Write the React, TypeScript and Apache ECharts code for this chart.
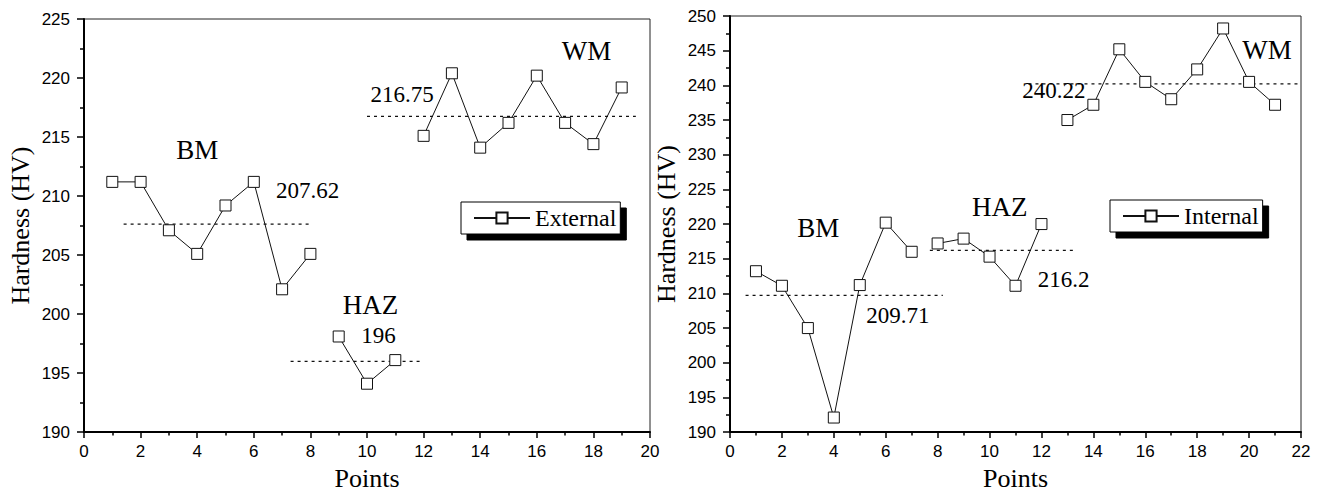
import React, { useEffect, useRef } from "react";
import * as echarts from "echarts";

// ---- External hardness profile ----
const extBmPoints = [1, 2, 3, 4, 5, 6, 7, 8];
const extBmHv = [211.2, 211.2, 207.1, 205.1, 209.2, 211.2, 202.1, 205.1];
const extHazPoints = [9, 10, 11];
const extHazHv = [198.1, 194.1, 196.1];
const extWmPoints = [12, 13, 14, 15, 16, 17, 18, 19];
const extWmHv = [215.1, 220.4, 214.1, 216.2, 220.2, 216.2, 214.4, 219.2];
// Zone averages (BM, HAZ, WM)
const extMeans = [207.62, 196, 216.75];

// ---- Internal hardness profile ----
const intBmPoints = [1, 2, 3, 4, 5, 6, 7];
const intBmHv = [213.2, 211.1, 205.0, 192.1, 211.2, 220.2, 216.0];
const intHazPoints = [8, 9, 10, 11, 12];
const intHazHv = [217.2, 217.9, 215.3, 211.1, 220.0];
const intWmPoints = [13, 14, 15, 16, 17, 18, 19, 20, 21];
const intWmHv = [235.0, 237.2, 245.2, 240.5, 238.0, 242.3, 248.2, 240.5, 237.2];
const intMeans = [209.71, 216.2, 240.22];

const zoneNames = ["BM", "HAZ", "WM"];

// Layout of the annotations (data coordinates), kept apart from the values
const extMeanSpans = [[1.4, 8.0], [7.3, 12.0], [10.0, 19.5]];
const extZoneLabelAt = [[4.0, 213.86], [10.12, 200.81], [17.76, 222.28]];
const extMeanLabelAt = [[7.9, 210.43], [10.41, 198.18], [11.24, 218.63]];

const intMeanSpans = [[0.6, 8.2], [7.7, 13.3], [11.5, 22]];
const intZoneLabelAt = [[3.4, 219.4], [10.39, 222.5], [20.69, 245.15]];
const intMeanLabelAt = [[6.47, 206.86], [12.85, 212.0], [12.48, 239.25]];

const SERIF = "'Liberation Serif', 'Times New Roman', serif";
const SANS = "'Liberation Sans', Arial, sans-serif";

function pairs(xs: number[], ys: number[]) {
  return xs.map((x, i) => [x, ys[i]]);
}

function profileSeries(
  name: string,
  axis: number,
  groups: [number[], number[]][],
  means: number[],
  spans: number[][],
  zoneAt: number[][],
  meanAt: number[][]
) {
  const out: any[] = [];
  groups.forEach(([xs, ys]) => {
    out.push({
      name,
      type: "line",
      xAxisIndex: axis,
      yAxisIndex: axis,
      data: pairs(xs, ys),
      symbol: "rect",
      symbolSize: 11,
      lineStyle: { color: "#111", width: 1 },
      itemStyle: { color: "#fff", borderColor: "#111", borderWidth: 1 },
      z: 3,
    });
  });
  means.forEach((m, i) => {
    out.push({
      name: zoneNames[i] + " mean",
      type: "line",
      xAxisIndex: axis,
      yAxisIndex: axis,
      data: [
        [spans[i][0], m],
        [spans[i][1], m],
      ],
      symbol: "none",
      lineStyle: { color: "#111", width: 1.2, type: [3, 4] },
      z: 2,
      silent: true,
    });
  });
  const labels: any[] = [];
  zoneNames.forEach((z, i) => {
    labels.push({
      value: zoneAt[i],
      label: { formatter: z, fontSize: 27 },
    });
  });
  means.forEach((m, i) => {
    labels.push({
      value: meanAt[i],
      label: { formatter: String(m), fontSize: 23 },
    });
  });
  out.push({
    name: "notes",
    type: "scatter",
    xAxisIndex: axis,
    yAxisIndex: axis,
    symbolSize: 0,
    itemStyle: { color: "#000" },
    silent: true,
    data: labels,
    label: {
      show: true,
      position: "inside",
      color: "#000",
      opacity: 1,
      textBorderWidth: 0,
      fontFamily: SERIF,
    },
    z: 5,
  });
  return out;
}

function xAxisFor(gridIndex: number, max: number) {
  return {
    type: "value",
    gridIndex,
    min: 0,
    max,
    interval: 2,
    name: "Points",
    nameLocation: "middle",
    nameGap: 31,
    nameTextStyle: { fontFamily: SERIF, fontSize: 26, color: "#000" },
    axisLine: { show: true, onZero: false, lineStyle: { color: "#000", width: 2 } },
    axisTick: { show: true, inside: false, length: 6, lineStyle: { color: "#000", width: 1.5 } },
    minorTick: { show: true, splitNumber: 2, length: 3.5, lineStyle: { color: "#000", width: 1.5 } },
    axisLabel: { fontFamily: SANS, fontSize: 17, color: "#000", margin: 11 },
    splitLine: { show: false },
  };
}

function yAxisFor(gridIndex: number, min: number, max: number) {
  return {
    type: "value",
    gridIndex,
    min,
    max,
    interval: 5,
    name: "Hardness (HV)",
    nameLocation: "middle",
    nameGap: 51,
    nameTextStyle: { fontFamily: SERIF, fontSize: 26, color: "#000" },
    axisLine: { show: true, onZero: false, lineStyle: { color: "#000", width: 2 } },
    axisTick: { show: true, inside: false, length: 7, lineStyle: { color: "#000", width: 1.5 } },
    minorTick: { show: true, splitNumber: 2, length: 4, lineStyle: { color: "#000", width: 1.5 } },
    axisLabel: { fontFamily: SANS, fontSize: 17, color: "#000", margin: 14 },
    splitLine: { show: false },
  };
}

function legendFor(name: string, left: number, top: number) {
  return {
    data: [name],
    left,
    top,
    orient: "horizontal",
    itemWidth: 56,
    itemHeight: 14,
    padding: [4, 4, 4, 12],
    backgroundColor: "#fff",
    borderColor: "#000",
    borderWidth: 1,
    borderRadius: 0,
    shadowColor: "#000",
    shadowBlur: 0,
    shadowOffsetX: 6,
    shadowOffsetY: 6,
    textStyle: { fontFamily: SERIF, fontSize: 24, color: "#000" },
    selectedMode: false,
  };
}

export default function App() {
  const ref = useRef<HTMLDivElement>(null);

  useEffect(() => {
    if (!ref.current) return;
    const chart = echarts.init(ref.current, undefined, { renderer: "svg" });
    chart.setOption({
      animation: false,
      backgroundColor: "#fff",
      grid: [
        { left: 84, top: 19, width: 566, height: 422, show: true, borderColor: "#222", borderWidth: 1 },
        { left: 730, top: 16, width: 571, height: 425, show: true, borderColor: "#222", borderWidth: 1 },
      ],
      xAxis: [xAxisFor(0, 20), xAxisFor(1, 22)],
      yAxis: [yAxisFor(0, 190, 225), yAxisFor(1, 190, 250)],
      legend: [legendFor("External", 461, 202), legendFor("Internal", 1110, 200)],
      series: [
        ...profileSeries(
          "External",
          0,
          [
            [extBmPoints, extBmHv],
            [extHazPoints, extHazHv],
            [extWmPoints, extWmHv],
          ],
          extMeans,
          extMeanSpans,
          extZoneLabelAt,
          extMeanLabelAt
        ),
        ...profileSeries(
          "Internal",
          1,
          [
            [intBmPoints, intBmHv],
            [intHazPoints, intHazHv],
            [intWmPoints, intWmHv],
          ],
          intMeans,
          intMeanSpans,
          intZoneLabelAt,
          intMeanLabelAt
        ),
      ],
    });
    return () => chart.dispose();
  }, []);

  return (
    <div
      ref={ref}
      style={{ position: "fixed", left: 0, top: 0, width: 1322, height: 496, background: "#fff" }}
    />
  );
}
